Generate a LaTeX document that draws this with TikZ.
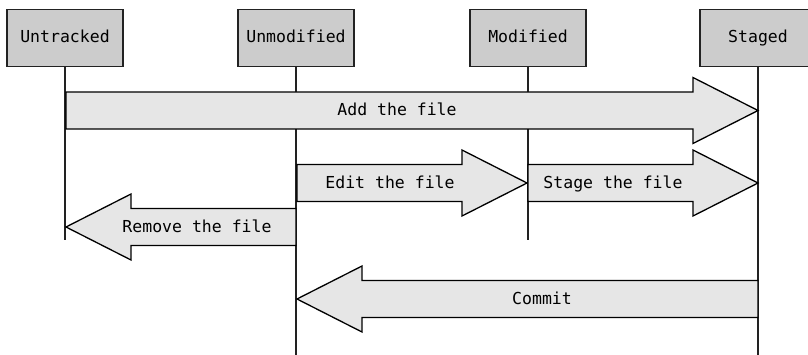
\documentclass[tikz,border=0pt]{standalone}
\usepackage{fontspec}
\setmonofont{DejaVu Sans Mono}
\definecolor{boxgray}{HTML}{CCCCCC}
\definecolor{arrowgray}{HTML}{E6E6E6}
\definecolor{linec}{HTML}{222222}
\newcommand\fatarrow[5]{%
  \pgfmathsetmacro\fdir{sign(#2-#1)}%
  \pgfmathsetmacro\fhb{#2-65*\fdir}%
  \draw[fat] (#1,#3-18.5) -- (\fhb,#3-18.5) -- (\fhb,#3-33) -- (#2,#3) -- (\fhb,#3+33) -- (\fhb,#3+18.5) -- (#1,#3+18.5) -- cycle;
  \node[lbl] at (#5,#3+5.5) {#4};}
\begin{document}
\begin{tikzpicture}[x=1pt,y=-1pt,
  state/.style={draw=linec,line width=1.3pt,fill=boxgray,minimum width=116pt,minimum height=57pt,inner sep=0pt,text height=12pt,text depth=3.5pt,font=\ttfamily\fontsize{16.5}{19}\selectfont},
  life/.style={draw=linec,line width=1.3pt},
  fat/.style={draw=black,line width=1.3pt,fill=arrowgray,line join=miter},
  lbl/.style={inner sep=0pt,anchor=base,font=\ttfamily\fontsize{16.5}{19}\selectfont}]
\useasboundingbox (0,0) rectangle (808,355);
\clip (0,0) rectangle (808,355);
\node[state] (ut) at (65,38) {Untracked};
\node[state] (um) at (296,38) {Unmodified};
\node[state] (md) at (528,38) {Modified};
\node[state] (st) at (758,38) {Staged};
\coordinate (ute) at (65,240);
\coordinate (ume) at (296,356);
\coordinate (mde) at (528,240);
\coordinate (ste) at (758,356);
\draw[life] (ut.south) -- (ute);
\draw[life] (um.south) -- (ume);
\draw[life] (md.south) -- (mde);
\draw[life] (st.south) -- (ste);
\fatarrow{66}{758}{110.5}{Add the file}{397}
\fatarrow{297}{527}{183}{Edit the file}{390}
\fatarrow{528}{758}{183}{Stage the file}{613}
\fatarrow{296}{66}{227}{Remove the file}{197}
\fatarrow{758}{297}{299}{Commit}{542}
\end{tikzpicture}
\end{document}
